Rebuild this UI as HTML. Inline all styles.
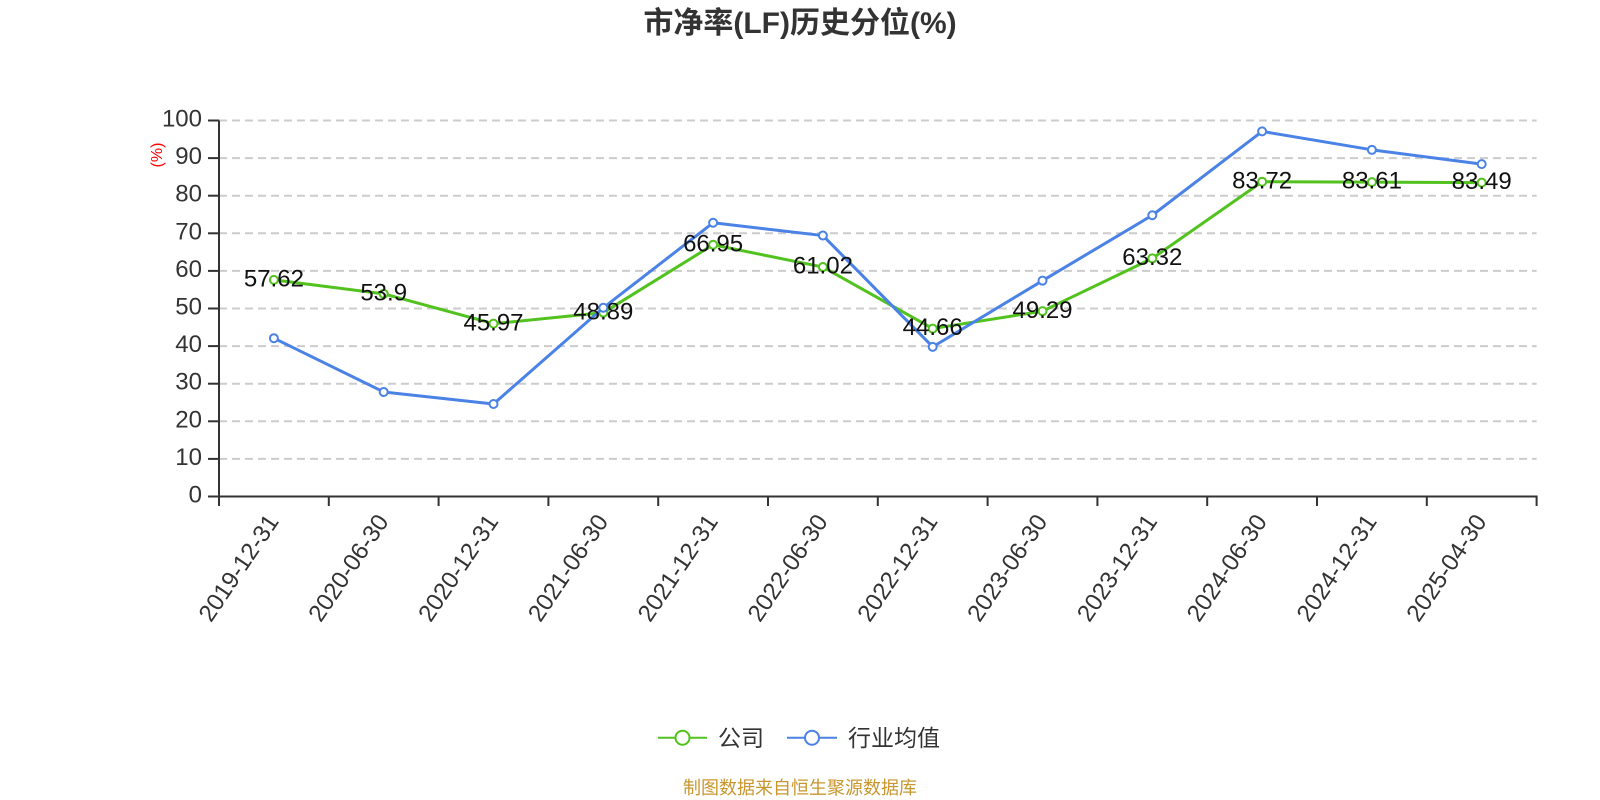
<!DOCTYPE html>
<html><head><meta charset="utf-8"><style>
html,body{margin:0;padding:0;background:#fff;}
svg{display:block;font-family:"Liberation Sans","Noto Sans CJK SC",sans-serif;}
</style></head><body>
<svg width="1600" height="800" viewBox="0 0 1600 800" xmlns="http://www.w3.org/2000/svg">
<rect width="1600" height="800" fill="#fff"/>
<text x="800" y="33" text-anchor="middle" font-size="30" font-weight="bold" fill="#333">市净率(LF)历史分位(%)</text>
<g stroke="#ccc" stroke-width="2" stroke-dasharray="8,5">
<line x1="219" y1="120.5" x2="1536.6" y2="120.5"/>
<line x1="219" y1="158.1" x2="1536.6" y2="158.1"/>
<line x1="219" y1="195.7" x2="1536.6" y2="195.7"/>
<line x1="219" y1="233.3" x2="1536.6" y2="233.3"/>
<line x1="219" y1="270.9" x2="1536.6" y2="270.9"/>
<line x1="219" y1="308.5" x2="1536.6" y2="308.5"/>
<line x1="219" y1="346.1" x2="1536.6" y2="346.1"/>
<line x1="219" y1="383.7" x2="1536.6" y2="383.7"/>
<line x1="219" y1="421.3" x2="1536.6" y2="421.3"/>
<line x1="219" y1="458.9" x2="1536.6" y2="458.9"/>
</g>
<g stroke="#333" stroke-width="2">
<line x1="219" y1="120.5" x2="219" y2="496.5"/>
<line x1="218" y1="496.5" x2="1537.6" y2="496.5"/>
<line x1="208" y1="120.5" x2="219" y2="120.5"/>
<line x1="208" y1="158.1" x2="219" y2="158.1"/>
<line x1="208" y1="195.7" x2="219" y2="195.7"/>
<line x1="208" y1="233.3" x2="219" y2="233.3"/>
<line x1="208" y1="270.9" x2="219" y2="270.9"/>
<line x1="208" y1="308.5" x2="219" y2="308.5"/>
<line x1="208" y1="346.1" x2="219" y2="346.1"/>
<line x1="208" y1="383.7" x2="219" y2="383.7"/>
<line x1="208" y1="421.3" x2="219" y2="421.3"/>
<line x1="208" y1="458.9" x2="219" y2="458.9"/>
<line x1="208" y1="496.5" x2="219" y2="496.5"/>
<line x1="219" y1="496.5" x2="219" y2="506"/>
<line x1="328.8" y1="496.5" x2="328.8" y2="506"/>
<line x1="438.6" y1="496.5" x2="438.6" y2="506"/>
<line x1="548.4" y1="496.5" x2="548.4" y2="506"/>
<line x1="658.2" y1="496.5" x2="658.2" y2="506"/>
<line x1="768" y1="496.5" x2="768" y2="506"/>
<line x1="877.8" y1="496.5" x2="877.8" y2="506"/>
<line x1="987.6" y1="496.5" x2="987.6" y2="506"/>
<line x1="1097.4" y1="496.5" x2="1097.4" y2="506"/>
<line x1="1207.2" y1="496.5" x2="1207.2" y2="506"/>
<line x1="1317" y1="496.5" x2="1317" y2="506"/>
<line x1="1426.8" y1="496.5" x2="1426.8" y2="506"/>
<line x1="1536.6" y1="496.5" x2="1536.6" y2="506"/>
</g>
<g font-size="24" fill="#333" text-anchor="end">
<text x="202" y="126.5">100</text>
<text x="202" y="164.1">90</text>
<text x="202" y="201.7">80</text>
<text x="202" y="239.3">70</text>
<text x="202" y="276.9">60</text>
<text x="202" y="314.5">50</text>
<text x="202" y="352.1">40</text>
<text x="202" y="389.7">30</text>
<text x="202" y="427.3">20</text>
<text x="202" y="464.9">10</text>
<text x="202" y="502.5">0</text>
</g>
<text transform="translate(162,155) rotate(-90)" text-anchor="middle" font-size="16" fill="#f00">(%)</text>
<g font-size="24" fill="#333" text-anchor="end">
<text transform="translate(273,517) rotate(-56)" dy="8">2019-12-31</text>
<text transform="translate(382.8,517) rotate(-56)" dy="8">2020-06-30</text>
<text transform="translate(492.6,517) rotate(-56)" dy="8">2020-12-31</text>
<text transform="translate(602.4,517) rotate(-56)" dy="8">2021-06-30</text>
<text transform="translate(712.2,517) rotate(-56)" dy="8">2021-12-31</text>
<text transform="translate(822,517) rotate(-56)" dy="8">2022-06-30</text>
<text transform="translate(931.8,517) rotate(-56)" dy="8">2022-12-31</text>
<text transform="translate(1041.6,517) rotate(-56)" dy="8">2023-06-30</text>
<text transform="translate(1151.4,517) rotate(-56)" dy="8">2023-12-31</text>
<text transform="translate(1261.2,517) rotate(-56)" dy="8">2024-06-30</text>
<text transform="translate(1371,517) rotate(-56)" dy="8">2024-12-31</text>
<text transform="translate(1480.8,517) rotate(-56)" dy="8">2025-04-30</text>
</g>
<polyline fill="none" stroke="#52c21e" stroke-width="3" stroke-linejoin="round" points="273.9,279.85 383.7,293.84 493.5,323.65 603.3,312.67 713.1,244.77 822.9,267.06 932.7,328.58 1042.5,311.17 1152.3,258.42 1262.1,181.71 1371.9,182.13 1481.7,182.58"/>
<g fill="#fff" stroke="#52c21e" stroke-width="2">
<circle cx="273.9" cy="279.85" r="4"/><circle cx="383.7" cy="293.84" r="4"/><circle cx="493.5" cy="323.65" r="4"/><circle cx="603.3" cy="312.67" r="4"/><circle cx="713.1" cy="244.77" r="4"/><circle cx="822.9" cy="267.06" r="4"/><circle cx="932.7" cy="328.58" r="4"/><circle cx="1042.5" cy="311.17" r="4"/><circle cx="1152.3" cy="258.42" r="4"/><circle cx="1262.1" cy="181.71" r="4"/><circle cx="1371.9" cy="182.13" r="4"/><circle cx="1481.7" cy="182.58" r="4"/>
</g>
<polyline fill="none" stroke="#4b82e6" stroke-width="3" stroke-linejoin="round" points="273.9,338.2 383.7,391.97 493.5,404.0 603.3,307.75 713.1,222.77 822.9,235.56 932.7,346.85 1042.5,280.68 1152.3,215.25 1262.1,131.4 1371.9,149.83 1481.7,164.12"/>
<g fill="#fff" stroke="#4b82e6" stroke-width="2">
<circle cx="273.9" cy="338.2" r="4"/><circle cx="383.7" cy="391.97" r="4"/><circle cx="493.5" cy="404.0" r="4"/><circle cx="603.3" cy="307.75" r="4"/><circle cx="713.1" cy="222.77" r="4"/><circle cx="822.9" cy="235.56" r="4"/><circle cx="932.7" cy="346.85" r="4"/><circle cx="1042.5" cy="280.68" r="4"/><circle cx="1152.3" cy="215.25" r="4"/><circle cx="1262.1" cy="131.4" r="4"/><circle cx="1371.9" cy="149.83" r="4"/><circle cx="1481.7" cy="164.12" r="4"/>
</g>
<g font-size="24" fill="#111" text-anchor="middle">
<text x="273.9" y="286.5">57.62</text>
<text x="383.7" y="300.5">53.9</text>
<text x="493.5" y="330.3">45.97</text>
<text x="603.3" y="319.3">48.89</text>
<text x="713.1" y="251.4">66.95</text>
<text x="822.9" y="273.7">61.02</text>
<text x="932.7" y="335.2">44.66</text>
<text x="1042.5" y="317.8">49.29</text>
<text x="1152.3" y="265.0">63.32</text>
<text x="1262.1" y="188.3">83.72</text>
<text x="1371.9" y="188.7">83.61</text>
<text x="1481.7" y="189.2">83.49</text>
</g>
<line x1="658" y1="737.7" x2="707" y2="737.7" stroke="#52c21e" stroke-width="2"/>
<circle cx="682.5" cy="737.7" r="7" fill="#fff" stroke="#52c21e" stroke-width="2"/>
<text x="718" y="746" font-size="23" fill="#333">公司</text>
<line x1="787" y1="737.7" x2="837" y2="737.7" stroke="#4b82e6" stroke-width="2"/>
<circle cx="812" cy="737.7" r="7" fill="#fff" stroke="#4b82e6" stroke-width="2"/>
<text x="848" y="746" font-size="23" fill="#333">行业均值</text>
<text x="800" y="794" text-anchor="middle" font-size="18" fill="#c9962e">制图数据来自恒生聚源数据库</text>
</svg>
</body></html>
